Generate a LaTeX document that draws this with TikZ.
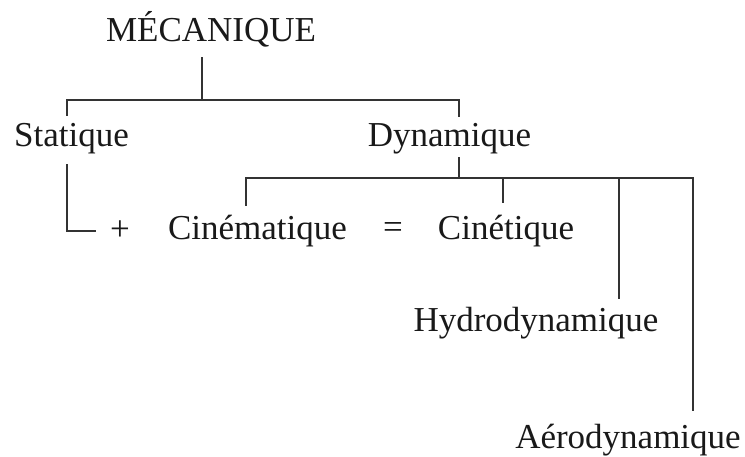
\documentclass[tikz,border=0pt]{standalone}
\usepackage{fontspec}
\setmainfont{Liberation Serif}
\begin{document}
\begin{tikzpicture}[x=1pt,y=-1pt,
  lbl/.style={anchor=base,inner sep=0pt,font=\fontsize{35}{42}\selectfont,text=black!90},
  sym/.style={anchor=center,inner sep=0pt,font=\fontsize{35}{42}\selectfont,text=black!90},
  conn/.style={draw=black!80,line width=2.4pt,line cap=rect}]
\useasboundingbox (0,0) rectangle (745,457);
% text nodes
\node[lbl] (meca)  at (211,42)  {MÉCANIQUE};
\node[lbl] (stat)  at (71.5,147) {Statique};
\node[lbl] (dyn)   at (449.5,147) {Dynamique};
\node[sym] (plus)  at (120,231) {+};
\node[lbl] (cine)  at (257.5,240) {Cinématique};
\node[sym] (eq)    at (393,231) {=};
\node[lbl] (cinet) at (506,240) {Cinétique};
\node[lbl] (hydro) at (536,332) {Hydrodynamique};
\node[lbl] (aero)  at (628,448) {Aérodynamique};
% connector points
\coordinate (mtop) at (202,58);
\coordinate (mj)   at (202,100);
\coordinate (sj)   at (67,100);
\coordinate (sin)  at (67,115);
\coordinate (dj)   at (459,100);
\coordinate (din)  at (459,116);
\coordinate (sout) at (67,165);
\coordinate (sc)   at (67,231);
\coordinate (pin)  at (95,231);
\coordinate (dout) at (459,158);
\coordinate (dj2)  at (459,178);
\coordinate (cj)   at (246,178);
\coordinate (cin)  at (246,205);
\coordinate (tj)   at (503,178);
\coordinate (tin)  at (503,202);
\coordinate (hj)   at (619,178);
\coordinate (hin)  at (619,298);
\coordinate (aj)   at (693,178);
\coordinate (ain)  at (693,410);
% connectors
\draw[conn] (mtop) -- (mj);
\draw[conn] (sin) -- (sj) -- (dj) -- (din);
\draw[conn] (sout) -- (sc) -- (pin);
\draw[conn] (dout) -- (dj2);
\draw[conn] (cin) -- (cj) -- (aj) -- (ain);
\draw[conn] (tj) -- (tin);
\draw[conn] (hj) -- (hin);
\end{tikzpicture}
\end{document}
